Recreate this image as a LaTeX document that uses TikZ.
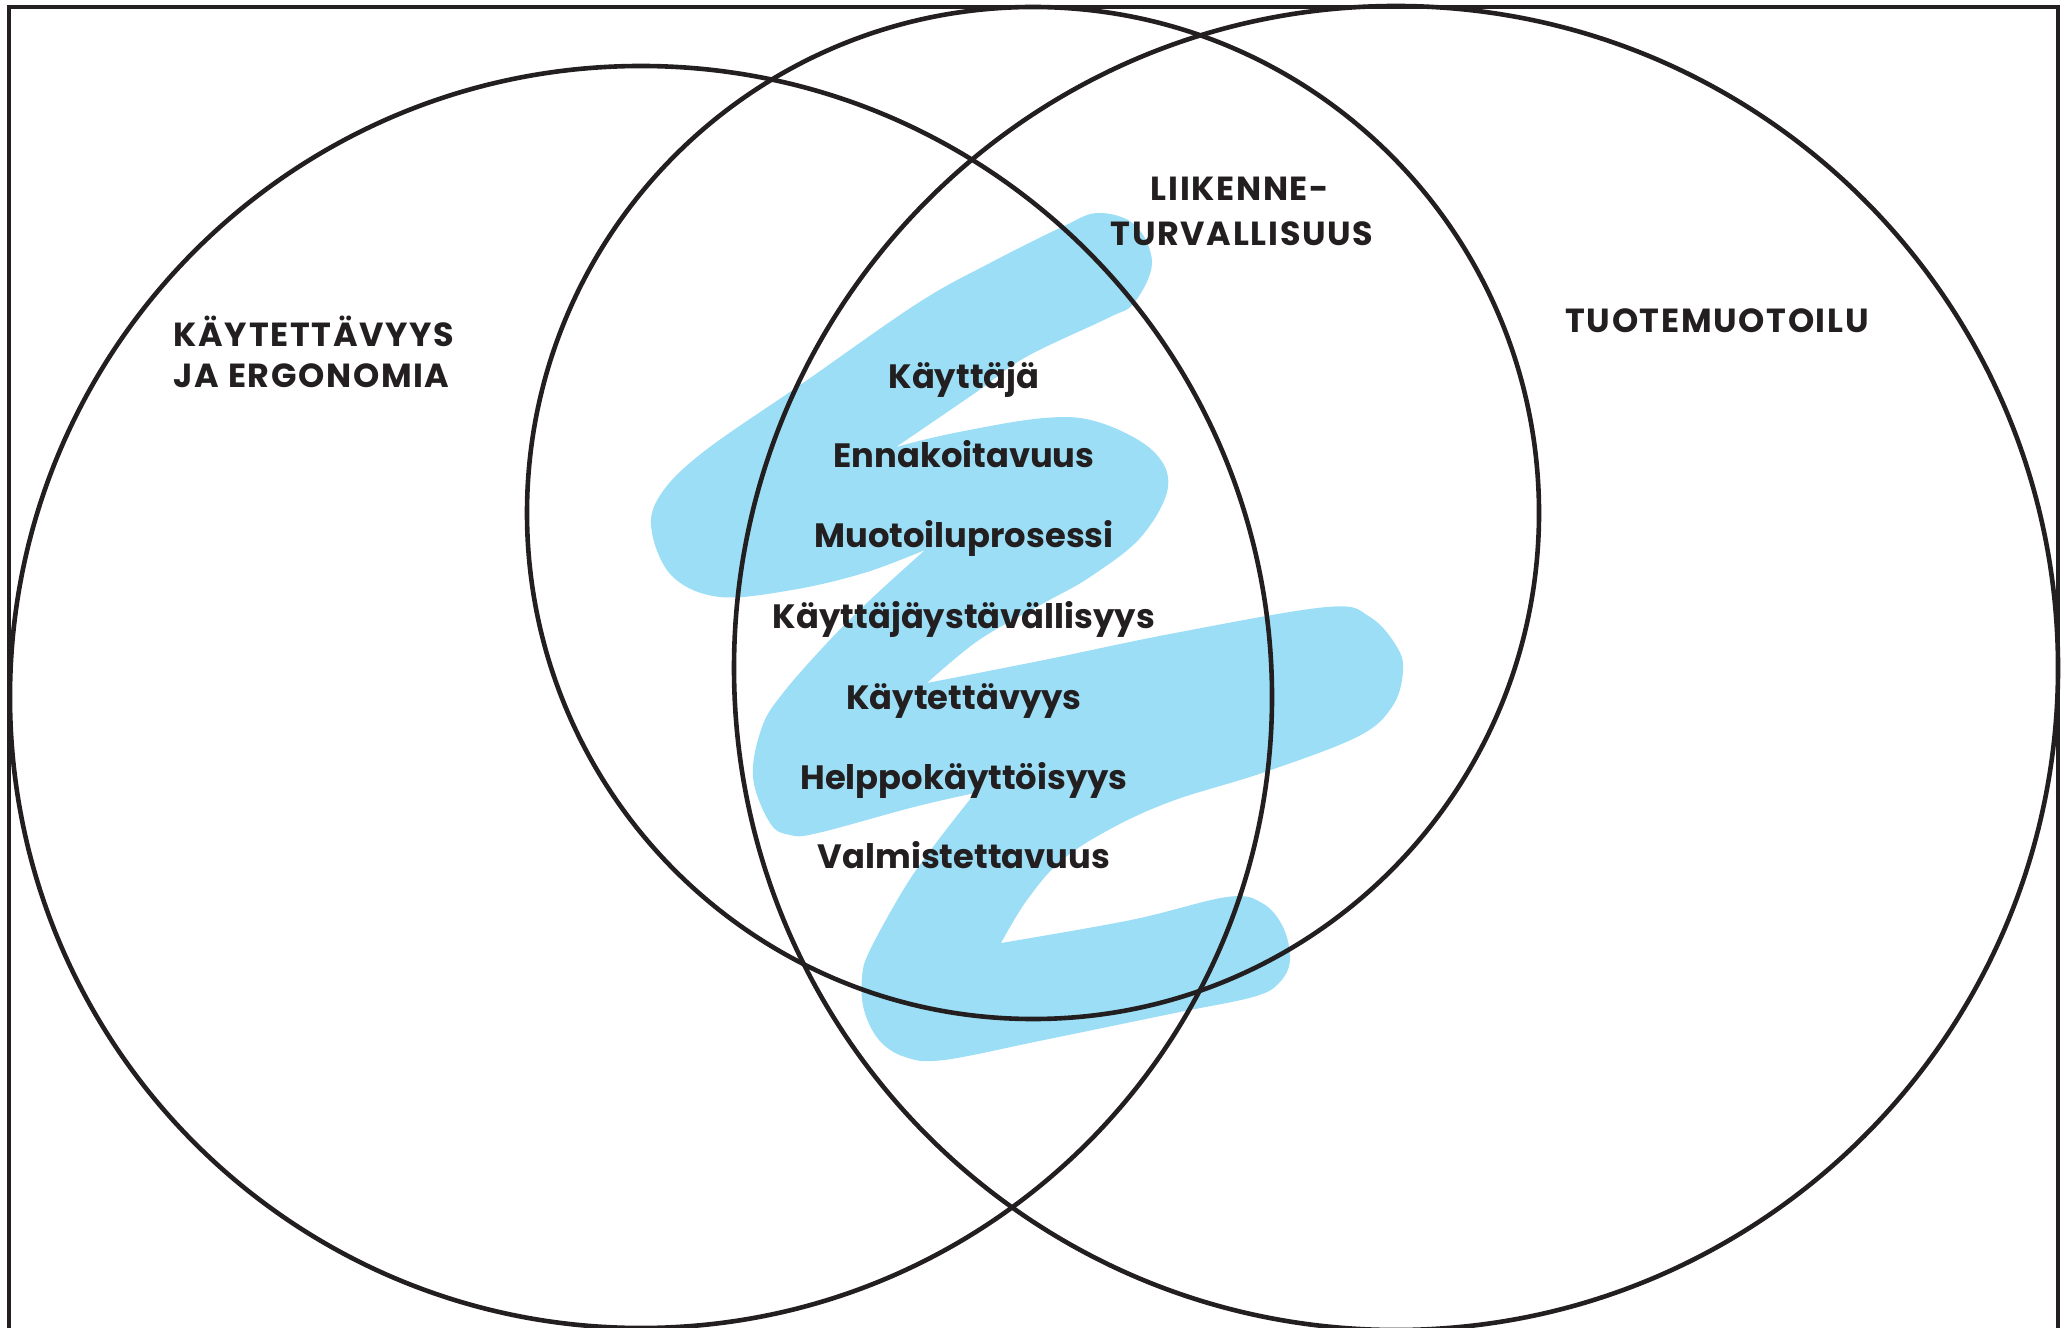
\documentclass[tikz,border=0pt]{standalone}
\usepackage{fontspec}
\setmainfont{Poppins}
\definecolor{inkc}{HTML}{231F20}
\definecolor{sky}{HTML}{9CDEF6}
\begin{document}
\begin{tikzpicture}[x=0.01cm,y=-0.01cm,
  ink/.style={draw=inkc, line width=0.046cm},
  head/.style={font=\bfseries\fontsize{9.5}{11}\selectfont\addfontfeature{LetterSpace=5}, text=inkc, inner sep=0, anchor=base},
  item/.style={font=\bfseries\fontsize{9.6}{12}\selectfont, text=inkc, inner sep=0, anchor=base}]
\useasboundingbox (0,0) rectangle (2067,1328);
\clip (0,0) rectangle (2067,1328);

% blue zig-zag brush stroke
\fill[sky]
  plot[smooth, tension=0.6] coordinates {(896,447) (954,433) (1044,418) (1098,422) (1152,450) (1168,487) (1141,537) (1090,577) (1044,603) (979,640) (927,683)}
  -- plot[smooth, tension=0.6] coordinates {(927,683) (1044,660) (1175,633) (1327,607) (1370,617) (1397,647) (1403,672) (1392,707) (1357,737) (1262,773) (1175,800) (1114,827) (1062,860) (1027,900) (1001,943)}
  -- plot[smooth, tension=0.6] coordinates {(1001,943) (1131,920) (1227,897) (1262,903) (1283,927) (1290,960) (1279,983) (1253,997) (1175,1013) (1044,1040) (944,1060) (905,1057) (879,1040) (864,1010) (862,977) (870,950) (905,887) (936,843) (975,793)}
  -- plot[smooth, tension=0.6] coordinates {(975,793) (914,807) (818,833) (790,835) (770,823) (753,777) (762,727) (783,693) (827,643) (870,600) (925,550)}
  -- plot[smooth, tension=0.6] coordinates {(925,550) (864,573) (792,590) (720,597) (673,577) (652,533) (659,497) (702,453) (803,383) (918,303) (990,263) (1062,227) (1098,213) (1135,225) (1152,263) (1134,303) (1108,318) (1026,357) (975,393) (896,447)}
  -- cycle;

% three overlapping circles
\draw[ink] (641,697) circle[radius=631];
\draw[ink] (1033,513) circle[radius=506];
\draw[ink] (1396,668) circle[radius=662];

% open frame
\draw[ink] (9,1340) -- (9,7) -- (2058,7) -- (2058,1340);

% headings
\node[head, anchor=base west] (h1a) at (173,347) {KÄYTETTÄVYYS};
\node[head, anchor=base west] (h1b) at (173,388) {JA ERGONOMIA};
\node[head] (h2a) at (1240,201) {LIIKENNE-};
\node[head] (h2b) at (1242,246) {TURVALLISUUS};
\node[head] (h3) at (1717,333) {TUOTEMUOTOILU};

% shared concepts
\node[item] (i1) at (964,389) {Käyttäjä};
\node[item] (i2) at (964,468) {Ennakoitavuus};
\node[item] (i3) at (964,548) {Muotoiluprosessi};
\node[item] (i4) at (964,629) {Käyttäjäystävällisyys};
\node[item] (i5) at (964,709) {Käytettävyys};
\node[item] (i6) at (964,789) {Helppokäyttöisyys};
\node[item] (i7) at (964,868) {Valmistettavuus};
\end{tikzpicture}
\end{document}
